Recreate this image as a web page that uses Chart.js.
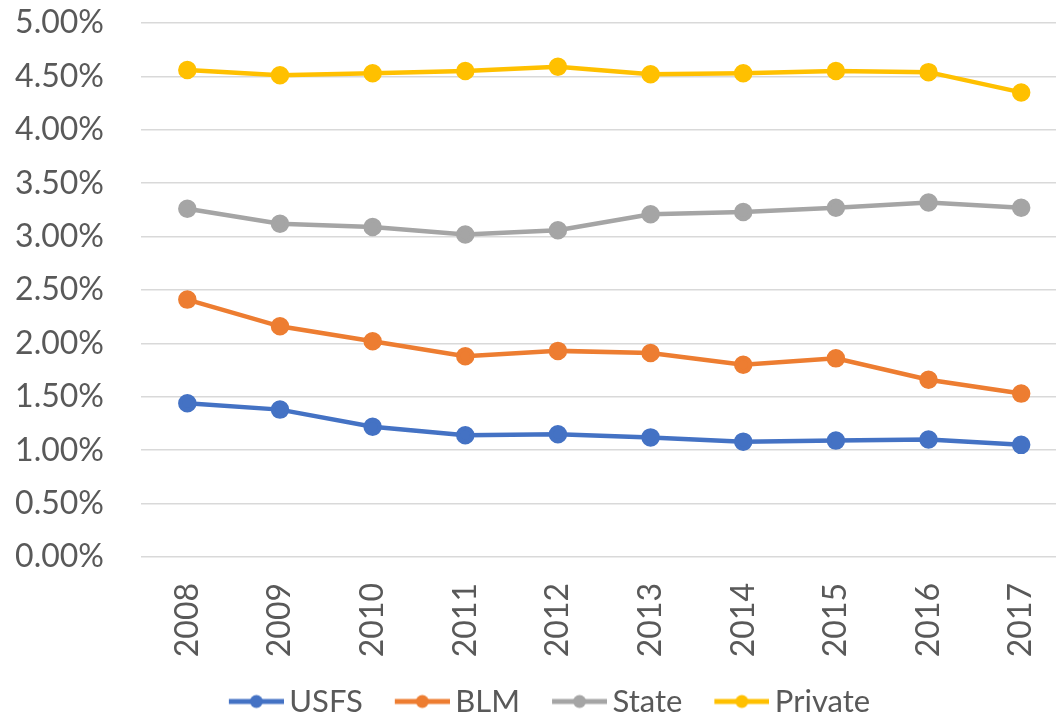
<!DOCTYPE html>
<html>
<head>
<meta charset="utf-8">
<script src="https://cdn.jsdelivr.net/npm/chart.js@4/dist/chart.umd.min.js"></script>
<style>
    body { margin: 0; background: #fff; overflow: hidden; }
    #wrap { width: 1079px; height: 720px; }
</style>
</head>
<body>
<div id="wrap"><canvas id="line-chart"></canvas></div>
<script>
const years = ['2008', '2009', '2010', '2011', '2012', '2013', '2014', '2015', '2016', '2017'];
const usfs = [1.44, 1.38, 1.22, 1.14, 1.15, 1.12, 1.08, 1.09, 1.10, 1.05];
const blm = [2.41, 2.16, 2.02, 1.88, 1.93, 1.91, 1.80, 1.86, 1.66, 1.53];
const state = [3.26, 3.12, 3.09, 3.02, 3.06, 3.21, 3.23, 3.27, 3.32, 3.27];
const privateLand = [4.56, 4.51, 4.53, 4.55, 4.59, 4.52, 4.53, 4.55, 4.54, 4.35];
const seriesNames = ['USFS', 'BLM', 'State', 'Private'];
const colors = ['#4472C4', '#ED7D31', '#A5A5A5', '#FFC000'];

const font = "Lato, 'Open Sans', sans-serif";
const textColor = '#595959';

// line-with-dot swatch for the legend (blank on the left so it sits next to the text)
function legendMark(color) {
    const c = document.createElement('canvas');
    c.width = 85;
    c.height = 16;
    const g = c.getContext('2d');
    g.strokeStyle = color;
    g.lineWidth = 5;
    g.beginPath();
    g.moveTo(30, 8);
    g.lineTo(85, 8);
    g.stroke();
    g.fillStyle = color;
    g.beginPath();
    g.arc(57.5, 8, 6.5, 0, Math.PI * 2);
    g.fill();
    return c;
}

const allData = [usfs, blm, state, privateLand];
const datasets = allData.map((vals, i) => ({
    label: seriesNames[i],
    data: vals,
    borderColor: colors[i],
    backgroundColor: colors[i],
    borderWidth: 4.5,
    pointRadius: 7,
    pointHoverRadius: 7,
    tension: 0
}));

const ctx = document.getElementById('line-chart').getContext('2d');
new Chart(ctx, {
    type: 'line',
    data: { labels: years, datasets: datasets },
    options: {
        responsive: true,
        maintainAspectRatio: false,
        animation: false,
        layout: { padding: { top: 8, left: 0, right: 0, bottom: -7 } },
        scales: {
            x: {
                offset: true,
                afterFit: (axis) => { axis.height = 117; },
                grid: { display: false },
                border: { display: false },
                ticks: {
                    color: textColor,
                    font: { family: font, size: 32 },
                    maxRotation: 90,
                    minRotation: 90,
                    padding: 18
                }
            },
            y: {
                min: 0,
                max: 5,
                afterFit: (axis) => {
                    axis.width = 141;
                    axis.paddingTop = 23;
                    axis.paddingBottom = 0;
                },
                grid: { color: '#d9d9d9', lineWidth: 1.5, drawTicks: false },
                border: { display: false },
                ticks: {
                    stepSize: 0.5,
                    color: textColor,
                    padding: 37,
                    font: { family: font, size: 32 },
                    callback: (v) => v.toFixed(2) + '%'
                }
            }
        },
        plugins: {
            legend: {
                position: 'bottom',
                labels: {
                    color: textColor,
                    font: { family: font, size: 31 },
                    usePointStyle: true,
                    pointStyleWidth: 65,
                    boxHeight: 16,
                    padding: 12,
                    generateLabels: (chart) => chart.data.datasets.map((ds, i) => ({
                        text: ds.label,
                        fillStyle: ds.borderColor,
                        strokeStyle: ds.borderColor,
                        fontColor: textColor,
                        pointStyle: legendMark(ds.borderColor),
                        lineWidth: 0,
                        datasetIndex: i
                    }))
                }
            },
            tooltip: { enabled: false }
        }
    }
});
</script>
</body>
</html>
